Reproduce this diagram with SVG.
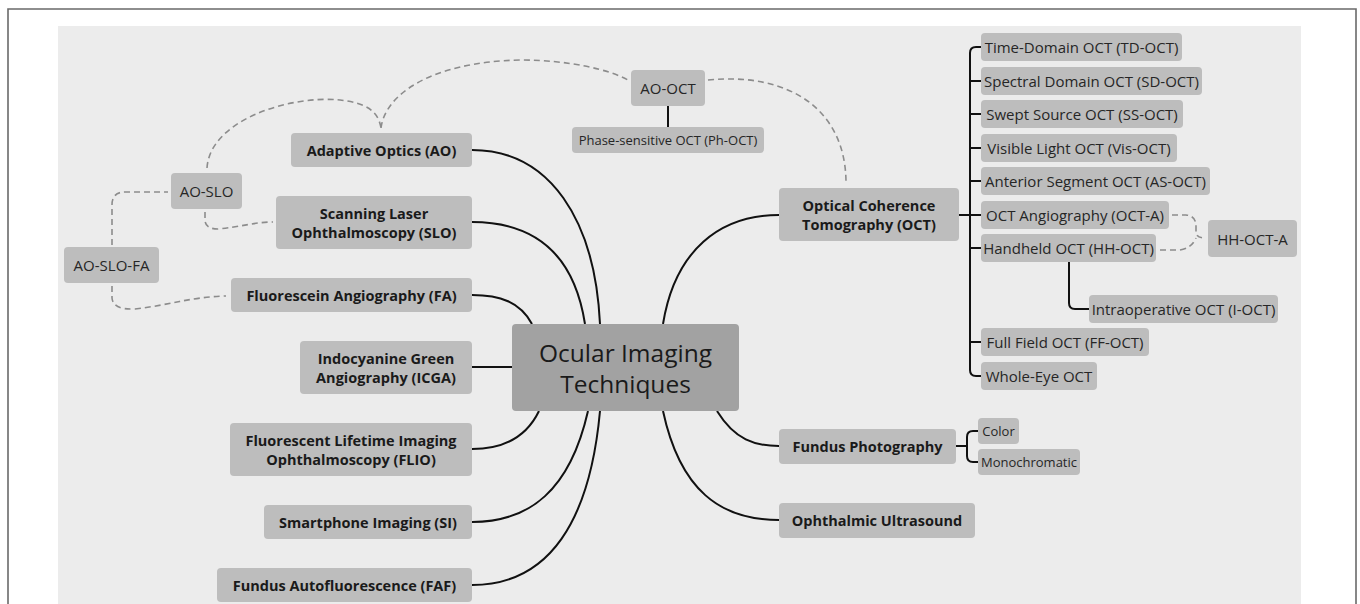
<svg xmlns="http://www.w3.org/2000/svg" width="1360" height="604" viewBox="0 0 1360 604">
<style>
.box{fill:#bdbdbd}
.ctr{fill:#a2a2a2}
.b{font-family:"Open Sans","Liberation Sans",sans-serif;font-weight:bold;font-size:14.5px;fill:#1a1a1a;text-anchor:middle;dominant-baseline:central}
.r{font-family:"Open Sans","Liberation Sans",sans-serif;font-size:15px;fill:#262626;text-anchor:middle;dominant-baseline:central}
.s{font-family:"Open Sans","Liberation Sans",sans-serif;font-size:13px;fill:#262626;text-anchor:middle;dominant-baseline:central}
.c{font-family:"Open Sans","Liberation Sans",sans-serif;font-size:24.5px;fill:#1a1a1a;text-anchor:middle;dominant-baseline:central}
.ln{fill:none;stroke:#111;stroke-width:2}
.dl{fill:none;stroke:#8c8c8c;stroke-width:1.6;stroke-dasharray:6 4}
</style>
<rect x="0" y="0" width="1360" height="604" fill="#ffffff"/>
<path d="M8,604 V9 H1356 V604" fill="none" stroke="#6a6a6a" stroke-width="1.6"/>
<rect x="58" y="26" width="1243" height="578" fill="#ececec"/>

<g id="connectors">
  <path class="ln" d="M600,324 C595,220 550,150 472,150"/>
  <path class="ln" d="M585,324 C575,260 540,222 472,222"/>
  <path class="ln" d="M532,324 C520,302 500,295 472,295"/>
  <path class="ln" d="M472,367 H512"/>
  <path class="ln" d="M539,411 C525,440 500,449 472,449"/>
  <path class="ln" d="M588,411 C570,490 530,522 472,522"/>
  <path class="ln" d="M600,411 C590,520 550,585 472,585"/>
  <path class="ln" d="M663,324 C675,250 720,215 779,215"/>
  <path class="ln" d="M717,411 C735,440 755,446 779,446"/>
  <path class="ln" d="M663,411 C680,490 720,520 779,520"/>
  <path class="ln" d="M668,106 V127"/>
  <path class="ln" d="M959,215 H981"/>
  <path class="ln" d="M981,47 H976 Q970,47 970,53 V370 Q970,376 976,376 H981"/>
  <path class="ln" d="M970,81 H981 M970,114 H981 M970,148 H981 M970,181 H981 M970,248 H981 M970,342 H981"/>
  <path class="ln" d="M1069,262 V303 Q1069,309 1075,309 H1089"/>
  <path class="ln" d="M956,446 H967"/>
  <path class="ln" d="M978,431 H973 Q967,431 967,437 V456 Q967,462 973,462 H978"/>
  <path class="dl" d="M112,245 V205 Q112,192 125,192 H168"/>
  <path class="dl" d="M112,286 V298 Q113,310 135,309 C170,305 190,297 226,296"/>
  <path class="dl" d="M205,212 V221 Q206,229 218,229 C240,227 255,222 273,222"/>
  <path class="dl" d="M207,168 C210,120 290,95 340,100 C365,103 378,110 381,128"/>
  <path class="dl" d="M381,128 C385,95 430,62 520,60 C570,60 610,70 628,80"/>
  <path class="dl" d="M708,80 C790,72 846,110 846,183"/>
  <path class="dl" d="M1172,215 H1186 Q1196,216 1196,226 V233 Q1197,238 1205,238"/>
  <path class="dl" d="M1160,250 H1180 Q1192,248 1196,238"/>
</g>

<g id="center"><rect class="ctr" x="512" y="324" width="227" height="87" rx="4"/><text class="c" x="625.5" y="352">Ocular Imaging</text><text class="c" x="625.5" y="383">Techniques</text></g>

<g id="ao"><rect class="box" x="291" y="133" width="181" height="34" rx="4"/><text class="b" x="381.5" y="150">Adaptive Optics (AO)</text></g>
<g id="slo"><rect class="box" x="276" y="196" width="196" height="53" rx="4"/><text class="b" x="374" y="213">Scanning Laser</text><text class="b" x="374" y="232">Ophthalmoscopy (SLO)</text></g>
<g id="aoslo"><rect class="box" x="171" y="173" width="71" height="36" rx="4"/><text class="r" x="206.5" y="191">AO-SLO</text></g>
<g id="aoslofa"><rect class="box" x="64" y="247" width="95" height="36" rx="4"/><text class="r" x="111.5" y="265">AO-SLO-FA</text></g>
<g id="fa"><rect class="box" x="231" y="278" width="241" height="34" rx="4"/><text class="b" x="351.5" y="295">Fluorescein Angiography (FA)</text></g>
<g id="icga"><rect class="box" x="300" y="341" width="172" height="53" rx="4"/><text class="b" x="386" y="358">Indocyanine Green</text><text class="b" x="386" y="377">Angiography (ICGA)</text></g>
<g id="flio"><rect class="box" x="230" y="423" width="242" height="53" rx="4"/><text class="b" x="351" y="440">Fluorescent Lifetime Imaging</text><text class="b" x="351" y="459">Ophthalmoscopy (FLIO)</text></g>
<g id="si"><rect class="box" x="264" y="505" width="208" height="34" rx="4"/><text class="b" x="368" y="522">Smartphone Imaging (SI)</text></g>
<g id="faf"><rect class="box" x="217" y="568" width="255" height="34" rx="4"/><text class="b" x="344.5" y="585">Fundus Autofluorescence (FAF)</text></g>

<g id="aooct"><rect class="box" x="631" y="70" width="74" height="36" rx="4"/><text class="r" x="668" y="88">AO-OCT</text></g>
<g id="phoct"><rect class="box" x="572" y="127" width="192" height="26" rx="4"/><text class="s" x="668" y="140">Phase-sensitive OCT (Ph-OCT)</text></g>

<g id="oct"><rect class="box" x="779" y="188" width="180" height="53" rx="4"/><text class="b" x="869" y="205">Optical Coherence</text><text class="b" x="869" y="224">Tomography (OCT)</text></g>
<g id="tdoct"><rect class="box" x="981" y="33" width="201" height="28" rx="4"/><text class="r" x="1081.5" y="47">Time-Domain OCT (TD-OCT)</text></g>
<g id="sdoct"><rect class="box" x="981" y="67" width="221" height="28" rx="4"/><text class="r" x="1091.5" y="81">Spectral Domain OCT (SD-OCT)</text></g>
<g id="ssoct"><rect class="box" x="981" y="100" width="202" height="28" rx="4"/><text class="r" x="1082" y="114">Swept Source OCT (SS-OCT)</text></g>
<g id="visoct"><rect class="box" x="981" y="134" width="196" height="28" rx="4"/><text class="r" x="1079" y="148">Visible Light OCT (Vis-OCT)</text></g>
<g id="asoct"><rect class="box" x="981" y="167" width="229" height="28" rx="4"/><text class="r" x="1095.5" y="181">Anterior Segment OCT (AS-OCT)</text></g>
<g id="octa"><rect class="box" x="981" y="201" width="188" height="28" rx="4"/><text class="r" x="1075" y="215">OCT Angiography (OCT-A)</text></g>
<g id="hhoct"><rect class="box" x="981" y="234" width="175" height="28" rx="4"/><text class="r" x="1068.5" y="248">Handheld OCT (HH-OCT)</text></g>
<g id="hhocta"><rect class="box" x="1208" y="220" width="89" height="37" rx="4"/><text class="r" x="1252.5" y="238.5">HH-OCT-A</text></g>
<g id="ioct"><rect class="box" x="1089" y="295" width="189" height="28" rx="4"/><text class="r" x="1183.5" y="309">Intraoperative OCT (I-OCT)</text></g>
<g id="ffoct"><rect class="box" x="981" y="328" width="168" height="28" rx="4"/><text class="r" x="1065" y="342">Full Field OCT (FF-OCT)</text></g>
<g id="wholeeye"><rect class="box" x="981" y="362" width="116" height="28" rx="4"/><text class="r" x="1039" y="376">Whole-Eye OCT</text></g>

<g id="fundus"><rect class="box" x="779" y="429" width="177" height="35" rx="4"/><text class="b" x="867.5" y="446.5">Fundus Photography</text></g>
<g id="color"><rect class="box" x="978" y="418" width="41" height="26" rx="4"/><text class="s" x="998.5" y="431">Color</text></g>
<g id="mono"><rect class="box" x="978" y="449" width="102" height="26" rx="4"/><text class="s" x="1029" y="462">Monochromatic</text></g>
<g id="ultrasound"><rect class="box" x="779" y="503" width="196" height="35" rx="4"/><text class="b" x="877" y="520.5">Ophthalmic Ultrasound</text></g>
</svg>
